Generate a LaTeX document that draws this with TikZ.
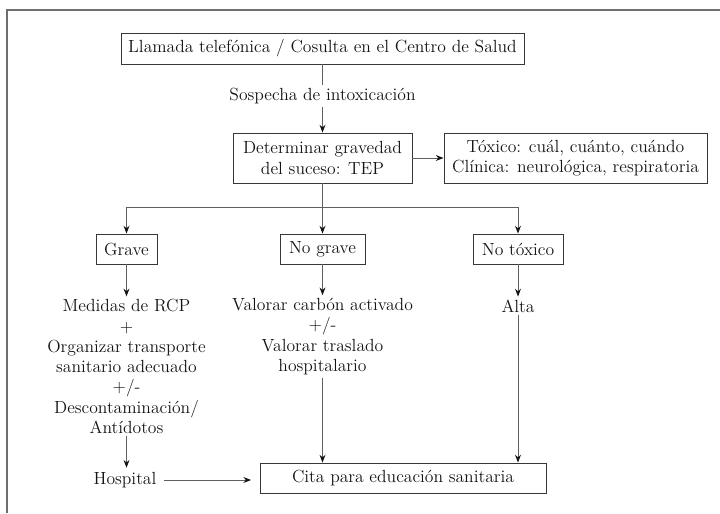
\documentclass[tikz,border=0pt]{standalone}
\usepackage{xcolor}
\usepackage{tikz}
\usetikzlibrary{arrows.meta}
\definecolor{framegray}{RGB}{110, 110, 110}
\definecolor{linegray}{RGB}{95, 95, 95}
\definecolor{inkgray}{RGB}{20, 20, 20}

\begin{document}
\begin{tikzpicture}[
          x=0.025cm, y=-0.025cm,
          every node/.style={font=\fontsize{12.5}{14.4}\selectfont, text=inkgray},
          stepbox/.style={draw=inkgray!85, fill=white, line width=0.65pt, inner sep=0pt, align=center},
          plaintext/.style={inner sep=2pt, align=center},
          arrow/.style={-{Stealth[length=5.5pt, width=4.2pt, color=inkgray]}, line width=0.7pt, draw=linegray},
          plainline/.style={line width=0.7pt, draw=linegray}
        ]
          \useasboundingbox (0,0) rectangle (720,513);
          % outer frame (cut by the page)
          \draw[framegray, line width=0.9pt] (7,513) -- (7,10) -- (720,10);

          % first contact
          \node[stepbox, minimum width=403*0.025cm, minimum height=31*0.025cm] (llamada) at (322.5,48.5) {Llamada telefónica / Cosulta en el Centro de Salud};
          \node[plaintext] (sospecha) at (322.5,96) {Sospecha de intoxicación};

          % severity
          \node[stepbox, minimum width=179*0.025cm, minimum height=50*0.025cm] (tep) at (322.5,158) {Determinar gravedad\\del suceso: TEP};
          \node[stepbox, minimum width=263*0.025cm, minimum height=50*0.025cm] (toxico) at (575.5,158) {Tóxico: cuál, cuánto, cuándo\\Clínica: neurológica, respiratoria};
          \coordinate (split) at (322.5,207);

          % branches
          \node[stepbox, minimum width=61*0.025cm, minimum height=30*0.025cm] (grave) at (126.5,249) {Grave};
          \node[stepbox, minimum width=85*0.025cm, minimum height=30*0.025cm] (nograve) at (322.5,249) {No grave};
          \node[stepbox, minimum width=90*0.025cm, minimum height=30*0.025cm] (notoxico) at (518,249) {No tóxico};

          % actions
          \node[plaintext] (medidas) at (126.5,366.5) {Medidas de RCP\\+\\Organizar transporte\\sanitario adecuado\\+/-\\Descontaminación/\\Antídotos};
          \node[plaintext] (valorar) at (322.5,336.5) {Valorar carbón activado\\+/-\\Valorar traslado\\hospitalario};
          \node[plaintext] (alta) at (518,306) {Alta};
          \node[plaintext, inner xsep=5pt] (hospital) at (125,480) {Hospital};

          % follow up
          \node[stepbox, minimum width=286*0.025cm, minimum height=30*0.025cm] (cita) at (403,478) {Cita para educación sanitaria};

          % Connections
          \draw[plainline] (llamada) -- (sospecha);
          \draw[arrow] (sospecha) -- (tep);
          \draw[arrow] (tep) -- (toxico);
          \draw[arrow] (tep) -- (nograve);
          \draw[arrow] (split) -| (grave);
          \draw[arrow] (split) -| (notoxico);
          \draw[arrow] (grave) -- (medidas);
          \draw[arrow] (nograve) -- (valorar);
          \draw[arrow] (notoxico) -- (alta);
          \draw[arrow] (medidas.south) ++(0,-1) -- ([yshift=1pt]medidas.south |- hospital.north);
          \draw[arrow] (hospital.east) -- ([xshift=-6pt]cita.west |- hospital.east);
          \draw[arrow] (valorar.south) -- (valorar.south |- cita.north);
          \draw[arrow] (alta.south) -- (alta.south |- cita.north);
        \end{tikzpicture}
\end{document}
